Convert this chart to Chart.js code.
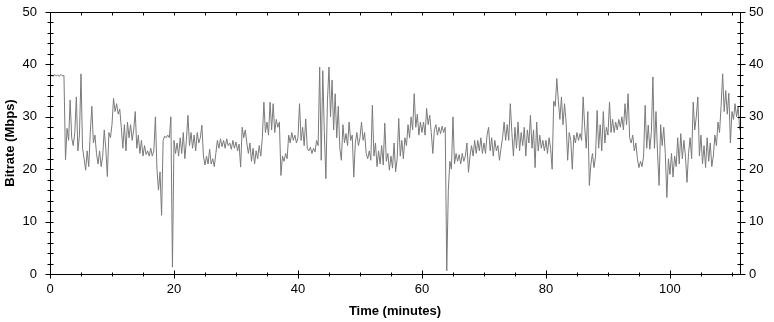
<!DOCTYPE html>
<html>
<head>
<meta charset="utf-8">
<script src="https://cdn.jsdelivr.net/npm/chart.js@4/dist/chart.umd.min.js"></script>
<style>
  html, body { margin: 0; padding: 0; background: #fff; }
  #chartCanvas { display: block; }
</style>
</head>
<body>
<canvas id="chartCanvas" width="774" height="322"></canvas>
<script>
// one sample every 0.25 minutes, split in 10-minute pieces
const sampleStep = 0.25;

const bitrate0 = [37.6, 38.0, 37.7, 38.1, 37.8, 38.0, 37.7, 38.1, 37.8, 37.9,
  21.8, 27.8, 25.5, 33.2, 26.0, 24.5, 27.0, 33.8, 23.5, 26.5, 38.2, 24.0,
  22.0, 19.8, 23.5, 20.5, 27.0, 32.0, 25.0, 26.5, 23.0, 21.0,
  23.5, 20.5, 22.5, 27.5, 24.0, 18.6, 27.0, 26.0];
const bitrate1 = [28.5, 33.5, 31.0, 32.5, 30.5, 31.5, 28.0, 24.0,
  28.5, 23.5, 29.0, 26.0, 28.5, 25.5, 27.5, 31.0,
  24.0, 26.5, 23.0, 25.5, 22.5, 24.5, 22.8, 23.5,
  22.5, 24.0, 22.5, 23.5, 30.0, 20.0, 16.0, 19.5,
  11.2, 25.5, 26.3, 26.0, 26.5, 26.0, 30.0, 1.3];
const bitrate2 = [25.5, 23.0, 25.0, 22.5, 26.0, 23.0, 27.0, 22.0,
  25.5, 30.3, 24.5, 27.0, 24.0, 26.5, 23.5, 27.0,
  25.0, 26.0, 28.4, 22.5, 20.8, 22.5, 21.0, 23.8,
  21.0, 22.0, 20.5, 23.0, 25.5, 24.0, 25.8, 24.3,
  25.5, 24.0, 25.8, 24.5, 25.0, 23.8, 25.5, 24.0];
const bitrate3 = [25.2, 23.5, 24.8, 20.4, 28.0, 26.0, 27.5, 25.0,
  23.0, 25.0, 21.5, 24.0, 21.0, 23.5, 22.0, 24.5,
  22.5, 26.0, 32.8, 27.0, 29.0, 26.5, 32.8, 27.5,
  32.5, 27.0, 29.5, 28.0, 29.0, 18.8, 22.5, 21.5,
  23.0, 22.0, 26.5, 25.0, 27.0, 25.5, 26.5, 25.0];
const bitrate4 = [26.0, 32.5, 25.5, 28.0, 24.5, 29.6, 24.0, 23.5,
  24.2, 23.0, 24.0, 23.3, 25.5, 24.5, 39.5, 21.7,
  38.8, 27.0, 18.2, 33.0, 39.5, 30.0, 37.0, 27.5,
  34.4, 26.0, 32.0, 24.0, 21.7, 28.5, 25.0, 26.8,
  24.5, 29.0, 25.5, 26.5, 18.5, 25.0, 27.0, 24.5];
const bitrate5 = [26.0, 29.0, 25.5, 27.0, 23.0, 22.0, 23.5, 21.7,
  32.2, 22.5, 25.0, 20.5, 23.5, 21.0, 24.5, 20.8,
  28.8, 21.5, 23.0, 19.8, 22.5, 20.2, 25.0, 19.5,
  22.0, 29.7, 22.5, 25.5, 22.0, 26.0, 24.5, 28.5,
  26.0, 30.0, 27.5, 34.4, 28.0, 30.5, 26.5, 29.0];
const bitrate6 = [27.0, 29.0, 26.5, 31.6, 28.5, 30.3, 27.0, 23.0,
  27.5, 28.5, 26.5, 28.0, 26.8, 28.2, 27.0, 28.0,
  0.6, 16.0, 21.5, 20.0, 30.0, 21.0, 23.0, 21.5,
  22.8, 21.0, 23.0, 21.5, 22.5, 25.0, 19.4, 22.5,
  24.5, 22.5, 25.5, 23.0, 25.5, 23.5, 26.0, 23.0];
const bitrate7 = [25.0, 23.0, 26.5, 28.0, 23.5, 26.0, 22.5, 25.5,
  23.5, 24.5, 21.7, 24.0, 26.0, 29.0, 25.5, 28.5,
  25.5, 32.5, 27.0, 22.5, 28.0, 24.0, 29.0, 23.5,
  27.0, 24.5, 28.0, 22.5, 27.5, 25.0, 30.3, 24.0,
  27.5, 20.3, 29.0, 23.5, 26.5, 24.0, 25.5, 23.5];
const bitrate8 = [25.5, 23.0, 26.0, 24.0, 20.0, 33.0, 32.0, 37.3,
  33.0, 29.5, 33.8, 28.5, 32.5, 29.0, 21.7, 27.0,
  25.5, 20.0, 26.5, 25.0, 27.0, 25.5, 26.8, 25.5,
  33.8, 28.0, 24.0, 31.0, 16.9, 21.0, 23.0, 20.3,
  22.5, 31.2, 24.0, 28.5, 23.5, 31.0, 25.0, 28.0];
const bitrate9 = [26.5, 32.8, 27.0, 29.5, 27.0, 29.0, 27.5, 29.5,
  28.0, 30.0, 27.5, 32.5, 28.5, 34.4, 26.0, 25.0,
  26.5, 23.5, 25.0, 22.0, 20.3, 21.5, 20.5, 22.5,
  32.2, 24.0, 28.4, 23.8, 27.0, 37.6, 24.0, 31.0,
  23.0, 16.9, 28.5, 24.5, 28.0, 23.0, 14.6, 22.0];
const bitrate10 = [19.0, 23.0, 18.5, 22.5, 20.5, 26.0, 21.0, 26.8,
  22.0, 25.5, 22.5, 17.5, 23.0, 26.0, 22.0, 32.8,
  27.5, 30.0, 33.8, 22.5, 26.5, 21.0, 24.5, 20.3,
  26.0, 21.5, 25.0, 20.5, 22.5, 26.5, 24.5, 29.0,
  27.0, 32.0, 38.2, 31.0, 35.0, 30.5, 34.5, 25.0];
const bitrate11 = [31.0, 29.5, 32.5, 30.0, 32.0, 27.5];

const yTickLabels = [0, 10, 20, 30, 40, 50];
const xTickLabels = [0, 20, 40, 60, 80, 100];

const bitrate = [].concat(bitrate0, bitrate1, bitrate2, bitrate3, bitrate4, bitrate5,
  bitrate6, bitrate7, bitrate8, bitrate9, bitrate10, bitrate11);
const points = bitrate.map((v, i) => ({ x: i * sampleStep, y: v }));

const tickFont = { family: 'Arial, "Liberation Sans", sans-serif', size: 13 };
const titleFont = { family: 'Arial, "Liberation Sans", sans-serif', size: 13, weight: 'bold' };

// frame and tick marks, drawn from the scales
const frameTicks = {
    id: 'frameTicks',
    afterDraw(chart) {
        const { ctx, chartArea: a, scales } = chart;
        const x = scales.x, y = scales.y;
        const L = Math.round(a.left) + 0.5, R = Math.round(a.right) + 0.5;
        const T = Math.round(a.top) + 0.5, B = Math.round(a.bottom) + 0.5;
        ctx.save();
        ctx.strokeStyle = '#000';
        ctx.lineWidth = 1;
        ctx.beginPath();
        ctx.moveTo(L, T); ctx.lineTo(R, T);
        ctx.moveTo(L, T); ctx.lineTo(L, B);
        ctx.moveTo(R, T); ctx.lineTo(R, B);
        ctx.moveTo(L, B); ctx.lineTo(R, B);
        for (let v = 0; v <= 50; v += 2) {
            const py = Math.round(y.getPixelForValue(v)) + 0.5;
            const major = v % 10 === 0;
            ctx.moveTo(L - (major ? 5 : 3), py); ctx.lineTo(L + 3, py);
            ctx.moveTo(R - 3, py); ctx.lineTo(R + (major ? 5 : 3), py);
        }
        for (let t = 0; t <= x.max; t += 5) {
            const px = Math.round(x.getPixelForValue(t)) + 0.5;
            const major = t % 20 === 0;
            ctx.moveTo(px, B - (major ? 4 : 2)); ctx.lineTo(px, B + (major ? 4 : 2));
            ctx.moveTo(px, T); ctx.lineTo(px, T + 3);
        }
        ctx.stroke();
        ctx.restore();
    }
};

function fixWidth(w) {
    return s => { s.width = w; s.paddingTop = 0; s.paddingBottom = 0; };
}

const ctx = document.getElementById('chartCanvas').getContext('2d');
window.myChart = new Chart(ctx, {
    type: 'line',
    data: {
        datasets: [{
            data: points,
            borderColor: 'rgb(122,122,122)',
            borderWidth: 1,
            pointRadius: 0,
            tension: 0,
            yAxisID: 'y'
        }]
    },
    options: {
        responsive: false,
        animation: false,
        devicePixelRatio: 1,
        layout: { padding: { top: 12, left: 0, right: 0, bottom: 0 } },
        plugins: { legend: { display: false }, tooltip: { enabled: false } },
        scales: {
            x: {
                type: 'linear',
                min: 0,
                max: 111.3,
                grid: { display: false, drawTicks: false },
                border: { display: false },
                ticks: {
                    stepSize: 20,
                    includeBounds: false,
                    maxRotation: 0,
                    color: '#000',
                    font: tickFont,
                    padding: 8,
                    callback: v => xTickLabels.includes(v) ? String(v) : ''
                },
                title: { display: true, text: 'Time (minutes)', color: '#000', font: titleFont, padding: { top: 0, bottom: 3 } },
                afterFit: s => { s.height = 48; s.paddingLeft = 0; s.paddingRight = 0; }
            },
            y: {
                position: 'left',
                min: 0,
                max: 50,
                grid: { display: false, drawTicks: false },
                border: { display: false },
                ticks: {
                    stepSize: 10,
                    color: '#000',
                    font: tickFont,
                    padding: 13,
                    callback: v => yTickLabels.includes(v) ? String(v) : ''
                },
                title: { display: true, text: 'Bitrate (Mbps)', color: '#000', font: titleFont, padding: { top: 3, bottom: 0 } },
                afterFit: fixWidth(50)
            },
            y2: {
                position: 'right',
                min: 0,
                max: 50,
                grid: { display: false, drawTicks: false },
                border: { display: false },
                ticks: {
                    stepSize: 10,
                    color: '#000',
                    font: tickFont,
                    padding: 9,
                    callback: v => yTickLabels.includes(v) ? String(v) : ''
                },
                afterFit: fixWidth(34)
            }
        }
    },
    plugins: [frameTicks]
});
</script>
</body>
</html>
